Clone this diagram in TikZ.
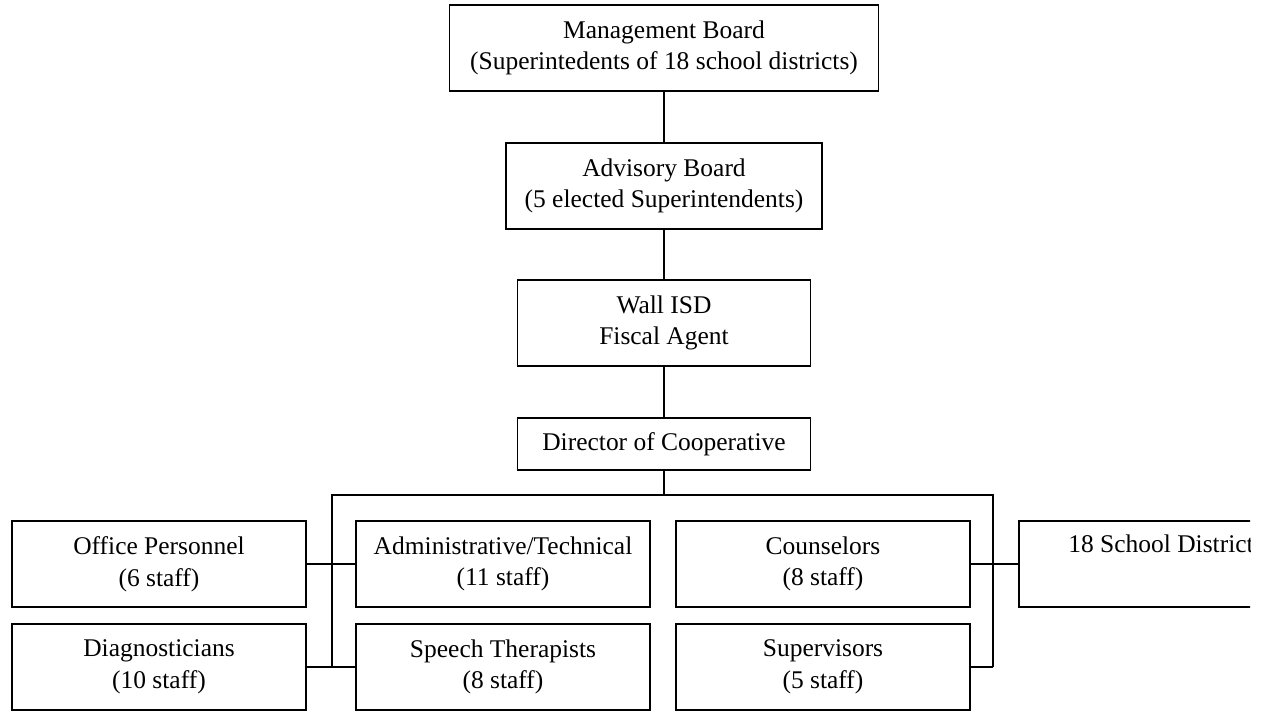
\documentclass[tikz,border=0pt]{standalone}
\usepackage{fontspec}
\setmainfont{Liberation Serif}
\usetikzlibrary{positioning}

\tikzset{
  unit box/.style={draw, line width=1pt, align=center, inner sep=0pt,
    minimum width=5.88cm, minimum height=1.72cm,
    font=\fontsize{14.5pt}{18pt}\selectfont},
  link/.style={line width=1pt}
}

\begin{document}
\begin{tikzpicture}[x=0.02cm, y=-0.02cm]
\useasboundingbox (0,0) rectangle (1264,711);

% chain of command
\node[unit box, minimum width=8.58cm] (mgmt) at (664,48)
  {Management Board\\(Superintedents of 18 school districts)};
\node[unit box, minimum width=6.32cm] (adv) at (664,186)
  {Advisory Board\\(5 elected Superintendents)};
\node[unit box, minimum width=5.86cm] (wall) at (664,323)
  {Wall ISD\\Fiscal Agent};
\node[unit box, minimum width=5.86cm, minimum height=1.04cm] (dir) at (664,444)
  {Director of Cooperative};

% staff groups
\node[unit box] (office) at (159,564) {Office Personnel\\(6 staff)};
\node[unit box] (admin)  at (503,564) {Administrative/Technical\\(11 staff)};
\node[unit box] (couns)  at (823,564) {Counselors\\(8 staff)};
\node[unit box] (diag)   at (159,667) {Diagnosticians\\(10 staff)};
\node[unit box] (speech) at (503,667) {Speech Therapists\\(8 staff)};
\node[unit box] (sup)    at (823,667) {Supervisors\\(5 staff)};

\begin{scope}
  \clip (1000,500) rectangle (1250,620);
  \node[unit box] (dist) at (1166,564) {18 School Districts\\\strut};
\end{scope}

\coordinate (busL) at (332,495);
\coordinate (busR) at (993,495);

\draw[link] (mgmt) -- (adv);
\draw[link] (adv) -- (wall);
\draw[link] (wall) -- (dir);
\draw[link] (dir) -- (dir |- busL);
\draw[link] (busL |- diag) -- (busL) -- (busR) -- (busR |- sup);
\draw[link] (office) -- (admin);
\draw[link] (diag) -- (speech);
\draw[link] (couns) -- (dist);
\draw[link] (sup) -- (busR |- sup);
\end{tikzpicture}
\end{document}
